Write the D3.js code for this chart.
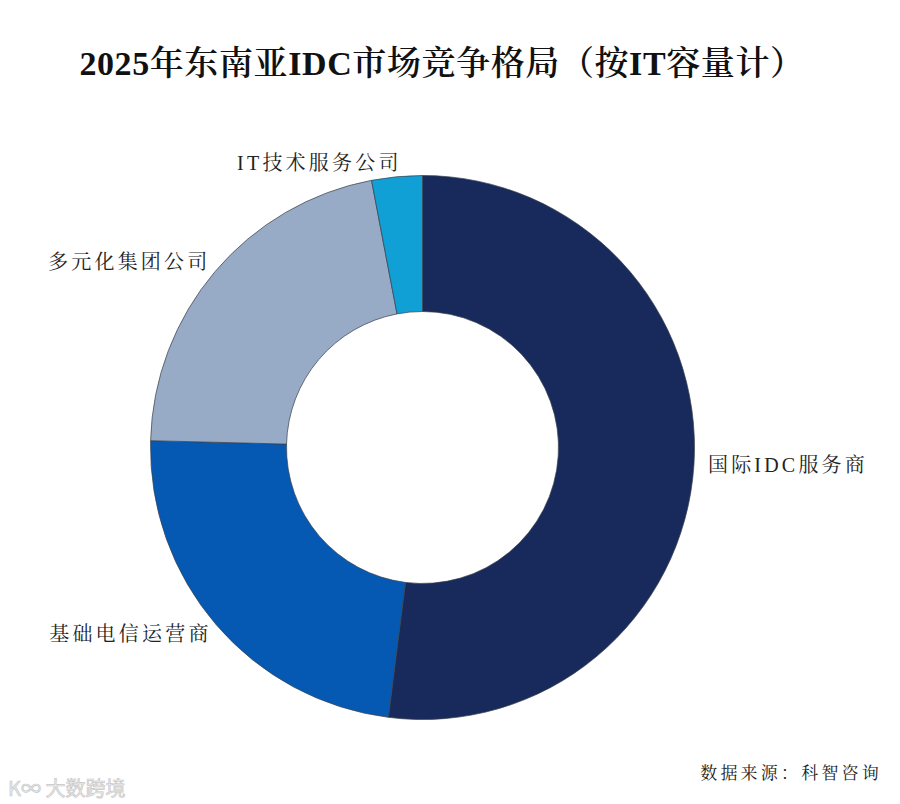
<!DOCTYPE html>
<html lang="zh">
<head>
<meta charset="UTF-8">
<title>2025年东南亚IDC市场竞争格局</title>
<script src="https://cdn.jsdelivr.net/npm/d3@7"></script>
<style>
  html, body { margin: 0; padding: 0; background: #fff; }
</style>
</head>
<body>
<div id="chart"></div>
<script>
const categories = ["国际IDC服务商", "基础电信运营商", "多元化集团公司", "IT技术服务公司"];
const shares = [52.0, 23.4, 21.6, 3.0];
const colors = ["#172a5b", "#0559b3", "#97abc6", "#10a0d6"];

const W = 900, H = 804;
const cx = 422.5, cy = 447.5;
const outerR = 272, innerR = 136, labelR = 286;

const cjk = "'Liberation Serif', 'Noto Serif CJK SC', 'Noto Sans CJK SC', serif";

const svg = d3.select("#chart").append("svg")
    .attr("width", W)
    .attr("height", H);

svg.append("text")
    .attr("x", 442)
    .attr("y", 75)
    .attr("text-anchor", "middle")
    .attr("font-family", cjk)
    .attr("font-weight", 600)
    .attr("font-size", 34)
    .attr("letter-spacing", 0.6)
    .attr("fill", "#111")
    .text("2025年东南亚IDC市场竞争格局（按IT容量计）");

const data = categories.map((c, i) => ({ name: c, value: shares[i], color: colors[i] }));

const pie = d3.pie().sort(null).value(d => d.value);
const arc = d3.arc().innerRadius(innerR).outerRadius(outerR);
const labelArc = d3.arc().innerRadius(labelR).outerRadius(labelR);

const g = svg.append("g").attr("transform", `translate(${cx},${cy})`);
const arcs = pie(data);

g.selectAll("path")
    .data(arcs)
    .enter()
    .append("path")
    .attr("d", arc)
    .attr("fill", d => d.data.color)
    .attr("stroke", "#3a3f4a")
    .attr("stroke-width", 0.7);

// left-side labels carry trailing letter-spacing, so nudge them right a little
g.selectAll("text.label")
    .data(arcs)
    .enter()
    .append("text")
    .attr("class", "label")
    .attr("transform", d => {
        const [x, y] = labelArc.centroid(d);
        return `translate(${x},${y})`;
    })
    .attr("text-anchor", d => labelArc.centroid(d)[0] > 0 ? "start" : "end")
    .attr("dx", d => labelArc.centroid(d)[0] > 0 ? 0 : 6)
    .attr("dy", "0.35em")
    .attr("font-family", cjk)
    .attr("font-size", 20)
    .attr("letter-spacing", 3.2)
    .attr("fill", "#222")
    .text(d => d.data.name);

svg.append("text")
    .attr("x", 882)
    .attr("y", 779)
    .attr("text-anchor", "end")
    .attr("font-family", cjk)
    .attr("font-size", 17)
    .attr("letter-spacing", 3.2)
    .attr("fill", "#222")
    .text("数据来源：科智咨询");

svg.append("text")
    .attr("x", 8)
    .attr("y", 796)
    .attr("font-family", "'Noto Sans CJK SC', sans-serif")
    .attr("font-size", 20)
    .attr("fill", "#ececec")
    .attr("stroke", "#c8c8c8")
    .attr("stroke-width", 0.7)
    .text("K∞ 大数跨境");
</script>
</body>
</html>
